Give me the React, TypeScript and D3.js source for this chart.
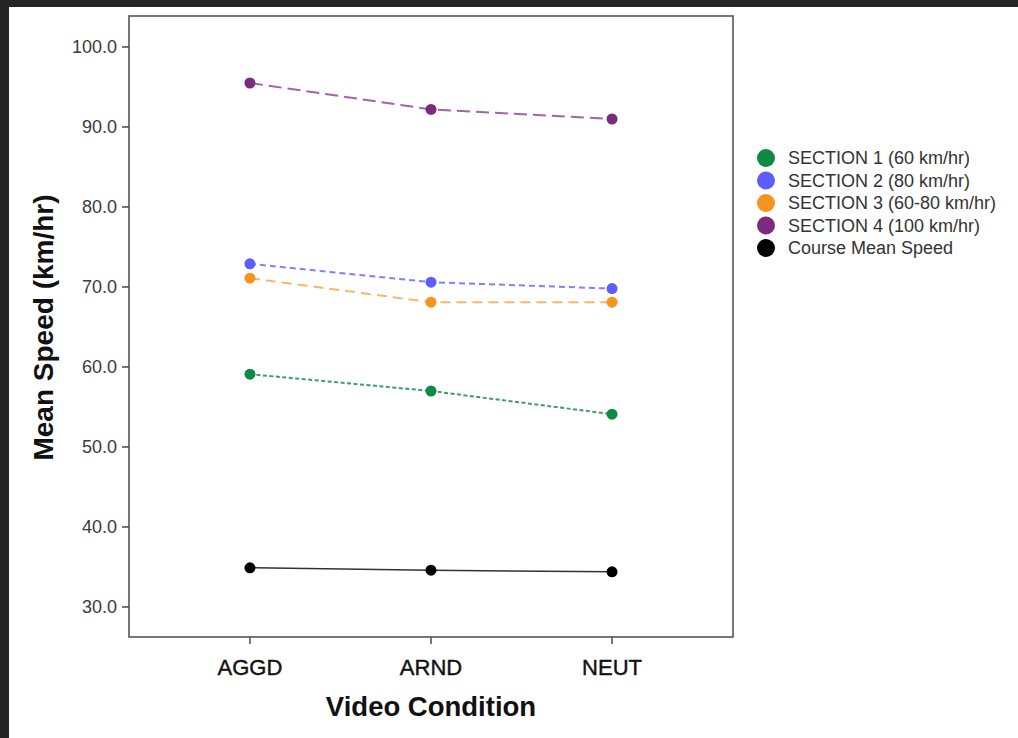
import React from "react";
import * as d3 from "d3";

const conditions = ["AGGD", "ARND", "NEUT"];
const yTicks = [30, 40, 50, 60, 70, 80, 90, 100];

const seriesNames = [
  "SECTION 1 (60 km/hr)",
  "SECTION 2 (80 km/hr)",
  "SECTION 3 (60-80 km/hr)",
  "SECTION 4 (100 km/hr)",
  "Course Mean Speed",
];
const section1 = [59.1, 57.0, 54.1];
const section2 = [72.9, 70.6, 69.8];
const section3 = [71.1, 68.1, 68.1];
const section4 = [95.5, 92.2, 91.0];
const courseMean = [34.9, 34.6, 34.4];

const markerColors = ["#0f8a45", "#5c5cff", "#f7941d", "#7b2a7e", "#000000"];
const lineColors = ["#3f9d68", "#7f7fff", "#fdb46a", "#a463a6", "#333333"];
const dashes = ["4,2.5", "6,4", "10,6", "13,6", null];

const W = 1018;
const H = 738;
const frame = { left: 129, right: 733, top: 16, bottom: 637 };

export default function App() {
  const allSeries = [section1, section2, section3, section4, courseMean];
  const x = d3
    .scalePoint<string>()
    .domain(conditions)
    .range([frame.left, frame.right])
    .padding(0.668);
  const y = d3.scaleLinear().domain([30, 100]).range([607, 47]);
  const line = d3
    .line<number>()
    .x((_, i) => x(conditions[i]) as number)
    .y((d) => y(d));

  const font = "'Liberation Sans', Arial, sans-serif";
  const legendY = d3.scaleLinear().domain([0, 4]).range([158, 248]);

  return (
    <svg
      width={W}
      height={H}
      style={{ position: "absolute", left: 0, top: 0, background: "#fff" }}
      fontFamily={font}
    >
      <rect x={0} y={0} width={W} height={H} fill="#fff" />
      {/* dark screenshot border */}
      <rect x={0} y={0} width={W} height={7} fill="#252525" />
      <rect x={0} y={0} width={9} height={H} fill="#252525" />

      {/* frame */}
      <rect
        x={frame.left}
        y={frame.top}
        width={frame.right - frame.left}
        height={frame.bottom - frame.top}
        fill="none"
        stroke="#555"
        strokeWidth={1.6}
      />

      {/* y ticks */}
      {yTicks.map((t) => (
        <g key={t}>
          <line x1={frame.left - 7} x2={frame.left} y1={y(t)} y2={y(t)} stroke="#555" strokeWidth={1.6} />
          <text
            x={frame.left - 12}
            y={y(t)}
            dy="0.36em"
            textAnchor="end"
            fontSize={18}
            fill="#3a3a3a"
          >
            {t.toFixed(1)}
          </text>
        </g>
      ))}

      {/* x ticks */}
      {conditions.map((c) => (
        <g key={c}>
          <line x1={x(c)} x2={x(c)} y1={frame.bottom} y2={frame.bottom + 7} stroke="#555" strokeWidth={1.6} />
          <text
            x={x(c)}
            y={675}
            textAnchor="middle"
            fontSize={22}
            fill="#111"
            stroke="#111"
            strokeWidth={0.4}
          >
            {c}
          </text>
        </g>
      ))}

      {/* axis titles */}
      <text x={431} y={716} textAnchor="middle" fontSize={27.5} fontWeight="bold" fill="#111">
        Video Condition
      </text>
      <text
        transform={`translate(53, ${(frame.top + frame.bottom) / 2 + 1}) rotate(-90)`}
        textAnchor="middle"
        fontSize={28}
        fontWeight="bold"
        fill="#111"
      >
        Mean Speed (km/hr)
      </text>

      {/* series */}
      {allSeries.map((vals, si) => (
        <g key={si}>
          <path
            d={line(vals) || ""}
            fill="none"
            stroke={lineColors[si]}
            strokeWidth={si === 4 ? 1.5 : 2}
            strokeDasharray={dashes[si] || undefined}
          />
          {vals.map((v, i) => (
            <circle key={i} cx={x(conditions[i])} cy={y(v)} r={5.5} fill={markerColors[si]} />
          ))}
        </g>
      ))}

      {/* legend */}
      {seriesNames.map((name, i) => (
        <g key={name}>
          <circle cx={766} cy={legendY(i)} r={9} fill={markerColors[i]} />
          <text x={788} y={legendY(i)} dy="0.36em" fontSize={18} fill="#333">
            {name}
          </text>
        </g>
      ))}
    </svg>
  );
}
